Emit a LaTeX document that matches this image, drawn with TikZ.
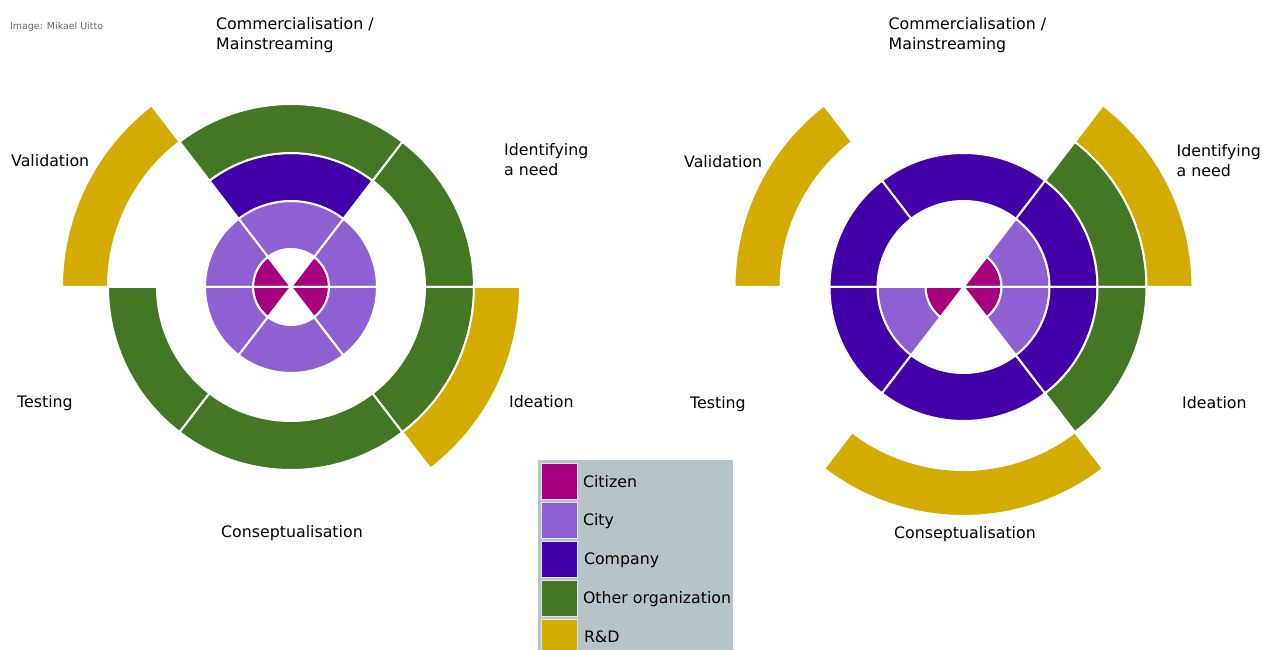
\documentclass[tikz,border=0pt]{standalone}
\usepackage{fontspec}
\setmainfont{DejaVu Sans}
\usetikzlibrary{positioning}
\definecolor{citizen}{HTML}{A6007F}
\definecolor{city}{HTML}{8E60D2}
\definecolor{company}{HTML}{4300A9}
\definecolor{otherorg}{HTML}{437723}
\definecolor{rnd}{HTML}{D4AB00}
\definecolor{legendbg}{HTML}{B6C4C8}
% #1 centre, #2 inner radius, #3 outer radius, #4/#5 angles, #6 colour
\newcommand{\ringpart}[6]{\filldraw[partline, fill=#6] ([shift={(#4:#3pt)}]#1) arc[start angle=#4, end angle=#5, radius=#3pt] -- ([shift={(#5:#2pt)}]#1) arc[start angle=#5, end angle=#4, radius=#2pt] -- cycle;}
\tikzset{partline/.style={draw=white, line width=2pt},
  phase/.style={inner sep=0pt, anchor=base west, align=left, font=\fontsize{15.8}{19.5}\selectfont},
  swatch/.style={minimum width=36pt, minimum height=36pt, inner sep=0pt, draw=white!55!legendbg, line width=0.6pt},
  keytext/.style={inner sep=0pt, text height=11pt, text depth=0pt, font=\fontsize{15.8}{19.5}\selectfont}}

\begin{document}
\begin{tikzpicture}[x=1pt, y=1pt]
\useasboundingbox (0,0) rectangle (1263,650);
\coordinate (lc) at (291,363);
\coordinate (rc) at (963.5,363);
\node[inner sep=0pt, anchor=base west, text=black!60, font=\fontsize{9.45}{11}\selectfont] (credit) at (10,620.7) {Image: Mikael Uitto};

% left wheel
\ringpart{lc}{0}{38}{0}{52.5}{citizen}
\ringpart{lc}{0}{38}{127.5}{180}{citizen}
\ringpart{lc}{0}{38}{180}{232.5}{citizen}
\ringpart{lc}{0}{38}{307.5}{360}{citizen}
\ringpart{lc}{38}{86}{0}{52.5}{city}
\ringpart{lc}{38}{86}{52.5}{127.5}{city}
\ringpart{lc}{38}{86}{127.5}{180}{city}
\ringpart{lc}{38}{86}{180}{232.5}{city}
\ringpart{lc}{38}{86}{232.5}{307.5}{city}
\ringpart{lc}{38}{86}{307.5}{360}{city}
\ringpart{lc}{86}{134}{52.5}{127.5}{company}
\ringpart{lc}{134}{183}{0}{52.5}{otherorg}
\ringpart{lc}{134}{183}{52.5}{127.5}{otherorg}
\ringpart{lc}{134}{183}{180}{232.5}{otherorg}
\ringpart{lc}{134}{183}{232.5}{307.5}{otherorg}
\ringpart{lc}{134}{183}{307.5}{360}{otherorg}
\ringpart{lc}{183}{229}{127.5}{180}{rnd}
\ringpart{lc}{183}{229}{307.5}{360}{rnd}

\node[phase] (lcomm) at (216,600.5) {Commercialisation /\\Mainstreaming};
\node[phase] (lneed) at (504,474.5) {Identifying\\a need};
\node[phase] (lvalid) at (11,483.5) {Validation};
\node[phase] (ltest) at (17,242.5) {Testing};
\node[phase] (lidea) at (509,242.5) {Ideation};
\node[phase] (lconcept) at (221,112.5) {Conseptualisation};

% right wheel
\ringpart{rc}{0}{38}{0}{52.5}{citizen}
\ringpart{rc}{0}{38}{180}{232.5}{citizen}
\ringpart{rc}{0}{38}{307.5}{360}{citizen}
\ringpart{rc}{38}{86}{0}{52.5}{city}
\ringpart{rc}{38}{86}{180}{232.5}{city}
\ringpart{rc}{38}{86}{307.5}{360}{city}
\ringpart{rc}{86}{134}{0}{52.5}{company}
\ringpart{rc}{86}{134}{52.5}{127.5}{company}
\ringpart{rc}{86}{134}{127.5}{180}{company}
\ringpart{rc}{86}{134}{180}{232.5}{company}
\ringpart{rc}{86}{134}{232.5}{307.5}{company}
\ringpart{rc}{86}{134}{307.5}{360}{company}
\ringpart{rc}{134}{183}{0}{52.5}{otherorg}
\ringpart{rc}{134}{183}{307.5}{360}{otherorg}
\ringpart{rc}{183}{229}{0}{52.5}{rnd}
\ringpart{rc}{183}{229}{127.5}{180}{rnd}
\ringpart{rc}{183}{229}{232.5}{307.5}{rnd}

\node[phase] (rcomm) at (888.5,600.5) {Commercialisation /\\Mainstreaming};
\node[phase] (rneed) at (1176.5,473.5) {Identifying\\a need};
\node[phase] (rvalid) at (684,482) {Validation};
\node[phase] (rtest) at (690,241) {Testing};
\node[phase] (ridea) at (1182,241) {Ideation};
\node[phase] (rconcept) at (894,111.5) {Conseptualisation};

% legend
\fill[legendbg] (538,0) rectangle (733,190);
\node[swatch, fill=citizen] (swcit) at (559,169) {};
\node[swatch, fill=city, below=2.4pt of swcit] (swcity) {};
\node[swatch, fill=company, below=2.4pt of swcity] (swcomp) {};
\node[swatch, fill=otherorg, below=2.4pt of swcomp] (swother) {};
\node[swatch, fill=rnd, below=2.4pt of swother] (swrnd) {};
\node[keytext, right=5.5pt of swcit, yshift=-1.5pt] (kcit) {Citizen};
\node[keytext, right=5.5pt of swcity] (kcity) {City};
\node[keytext, right=6.5pt of swcomp] (kcomp) {Company};
\node[keytext, right=5.5pt of swother] (kother) {Other organization};
\node[keytext, right=6.5pt of swrnd] (krnd) {R\&D};
\end{tikzpicture}
\end{document}
